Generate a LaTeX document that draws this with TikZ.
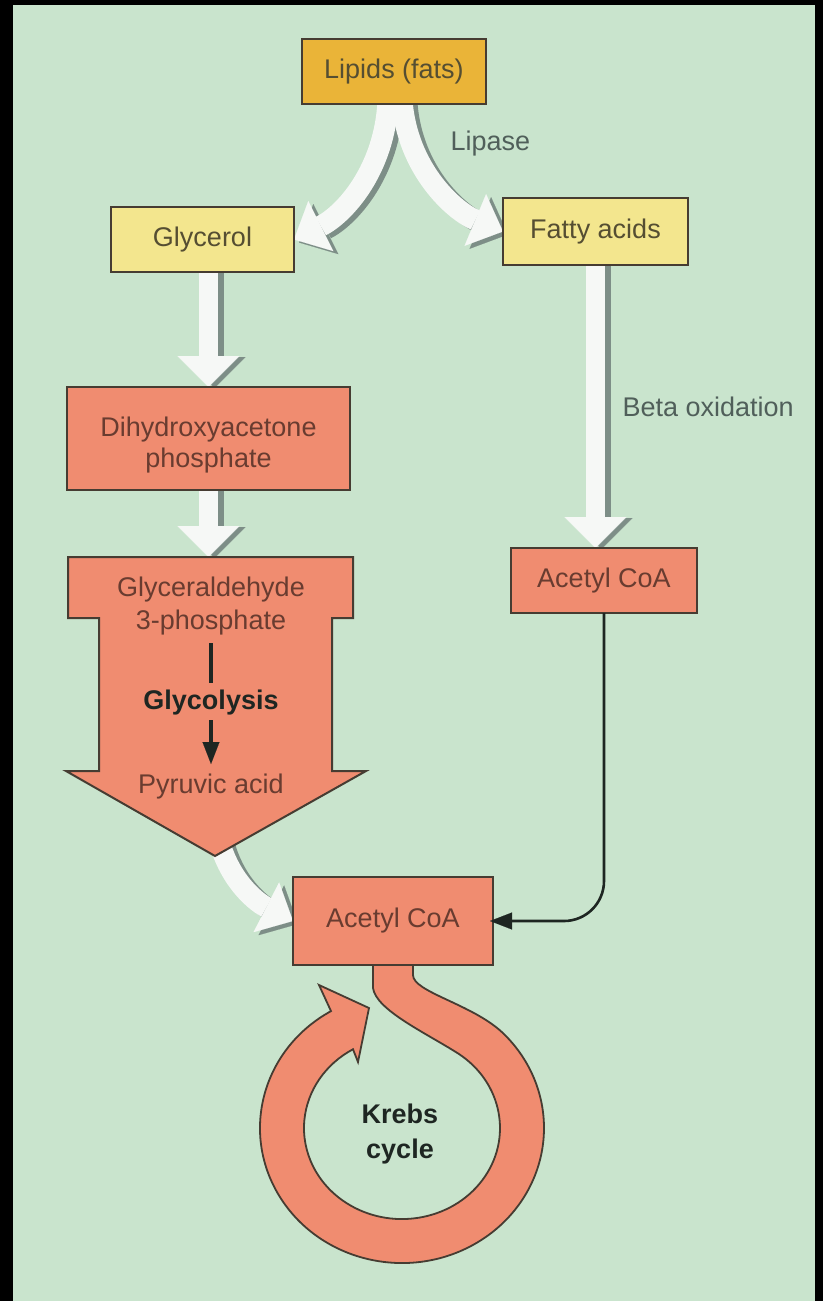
\documentclass[tikz,border=0pt]{standalone}
\usepackage{fontspec}
\setmainfont{Liberation Sans}
\usetikzlibrary{arrows.meta,calc}

\pgfdeclarelayer{canvas}
\pgfdeclarelayer{flows}
\pgfdeclarelayer{shapes}
\pgfsetlayers{canvas,flows,shapes,main}

\definecolor{bg}{RGB}{201,228,205}
\definecolor{lipidfill}{RGB}{234,180,56}
\definecolor{paleyellow}{RGB}{243,230,142}
\definecolor{salmon}{RGB}{240,140,112}
\definecolor{edge}{RGB}{70,60,50}
\definecolor{arrowwhite}{RGB}{246,248,246}
\definecolor{arrowshade}{RGB}{125,142,135}
\definecolor{boxtext}{RGB}{105,60,48}
\definecolor{yboxtext}{RGB}{85,78,50}
\definecolor{labeltext}{RGB}{80,95,90}
\definecolor{darktext}{RGB}{30,38,34}

\begin{document}
\begin{tikzpicture}[x=1pt,y=-1pt,
  every node/.style={font=\fontsize{27}{32}\selectfont},
  box/.style={draw=edge, line width=2.2pt, inner sep=0pt, outer sep=0pt, align=center},
  ybox/.style={box, fill=paleyellow, text=yboxtext},
  sbox/.style={box, fill=salmon, text=boxtext},
  flowline/.style={line width=19pt, -{Triangle[length=31pt,width=62pt,line width=0.1pt]}},
  bentflow/.style={line width=21pt, -{Triangle[length=30pt,width=56pt,line width=0.1pt]}},
  flowshadow/.style={draw=arrowshade, transform canvas={xshift=6pt,yshift=-1pt}},
  bentshadow/.style={draw=arrowshade, transform canvas={xshift=5pt,yshift=-3pt}},
  lit/.style={draw=arrowwhite},
  conn/.style={draw=darktext, line width=2.6pt, rounded corners=40pt,
    -{Triangle[length=22pt,width=17pt,line width=0.1pt]}},
  ringshape/.style={draw=edge, line width=1.8pt, fill=salmon},
  sidetext/.style={text=labeltext, anchor=west}
]

% frame and paper
\begin{pgfonlayer}{canvas}
  \fill[black] (0,0) rectangle (823,1301);
  \fill[bg] (13,5) rectangle (815,1301);
\end{pgfonlayer}

% boxes
\node[box, fill=lipidfill, text=yboxtext, minimum width=184pt, minimum height=65pt] (lipids) at (394,71.5) {Lipids (fats)};
\node[ybox, minimum width=183pt, minimum height=65pt] (glycerol) at (202.5,239.5) {Glycerol};
\node[ybox, minimum width=185pt, minimum height=67pt] (fatty) at (595.5,231.5) {Fatty acids};
\node[sbox, minimum width=283pt, minimum height=103pt,
  label={[text=boxtext, align=center, font=\fontsize{27}{31}\selectfont, yshift=-7pt]center:Dihydroxyacetone\\phosphate}]
  (dhap) at (208.5,438.5) {};
\node[sbox, minimum width=186pt, minimum height=65pt] (acetylR) at (604,580.5) {Acetyl CoA};
\node[sbox, minimum width=200pt, minimum height=88pt] (acetylB) at (393,921) {Acetyl CoA};

% labels beside the pathways
\node[sidetext] (lipase) at (447,144) {Lipase};
\node[sidetext] (beta) at (619,407) {Beta oxidation};

% glycolysis block arrow
\coordinate (g3ptop) at (210,557);
\coordinate (g3ptip) at (215,856);
\begin{pgfonlayer}{shapes}
  \draw[draw=edge, line width=2pt, fill=salmon]
    (68,557) -- (353,557) -- (353,618) -- (332,618) -- (332,771) -- (366,771)
    -- (g3ptip) -- (66,771) -- (99,771) -- (99,618) -- (68,618) -- cycle;
\end{pgfonlayer}
\node[text=boxtext, align=center, font=\fontsize{27}{33}\selectfont] (g3p) at (211,606) {Glyceraldehyde\\3-phosphate};
\node[text=darktext, font=\fontsize{27}{32}\selectfont\bfseries] (glyco) at (211,703) {Glycolysis};
\node[text=boxtext] (pyruvic) at (211,787) {Pyruvic acid};
\coordinate (barA) at (211,643);
\coordinate (barB) at (211,683);
\coordinate (stepA) at (211,720);
\coordinate (stepB) at (211,764);
\draw[draw=darktext, line width=4pt] (barA) -- (barB);
\draw[draw=darktext, line width=3.5pt, -{Triangle[length=22pt,width=17pt,line width=0.1pt]}] (stepA) -- (stepB);

% Krebs cycle label
\node[text=darktext, align=center, font=\fontsize{27}{35}\selectfont\bfseries] (krebs) at (400,1134) {Krebs\\cycle};

% attachment points of the wide arrows
\coordinate (gsA) at ($(glycerol.south)+(6,0)$);
\coordinate (gsB) at (gsA |- dhap.north);
\coordinate (dsA) at (gsA |- dhap.south);
\coordinate (dsB) at (gsA |- g3ptop);
\coordinate (lipL) at ($(lipids.south)+(-6,-4)$);
\coordinate (lipR) at ($(lipids.south)+(8,-4)$);
\coordinate (g3pout) at ($(g3ptip)+(5,-12)$);

\begin{pgfonlayer}{flows}
  % shadows of the wide arrows
  \draw[flowline, flowshadow] (gsA) -- (gsB);
  \draw[flowline, flowshadow] (dsA) -- (dsB);
  \draw[flowline, flowshadow] (fatty.south) -- (fatty.south |- acetylR.north);
  \draw[bentflow, bentshadow] (lipL) .. controls +(-3,70) and +(50,-25) .. (glycerol.east);
  \draw[bentflow, bentshadow] (lipR) .. controls +(5,70) and +(-48,-20) .. (fatty.west);
  \draw[bentflow, bentshadow] (g3pout) .. controls +(12,40) and +(-35,-18) .. (acetylB.west);
  % white bodies of the wide arrows
  \draw[flowline, lit] (gsA) -- (gsB);
  \draw[flowline, lit] (dsA) -- (dsB);
  \draw[flowline, lit] (fatty.south) -- (fatty.south |- acetylR.north);
  \draw[bentflow, lit] (lipL) .. controls +(-3,70) and +(50,-25) .. (glycerol.east);
  \draw[bentflow, lit] (lipR) .. controls +(5,70) and +(-48,-20) .. (fatty.west);
  \draw[bentflow, lit] (g3pout) .. controls +(12,40) and +(-35,-18) .. (acetylB.west);

  % Krebs cycle ring leaving the bottom of acetyl CoA
  \draw[ringshape]
    (373,958) -- (373,988)
    .. controls (376,1010) and (426,1033) .. (458.2,1053.5)
    arc[start angle=-55, end angle=240, x radius=98, y radius=91]
    -- (358,1062) -- (369,1008) -- (319,985) -- (331,1011.1)
    arc[start angle=240, end angle=-45, x radius=142, y radius=135]
    .. controls (472,1004) and (413,992) .. (413,975) -- (413,958) -- cycle;
\end{pgfonlayer}

% acetyl CoA from beta oxidation joins the lower acetyl CoA
\draw[conn, shorten >=-3pt] (acetylR.south) |- (acetylB.east);

\end{tikzpicture}
\end{document}
